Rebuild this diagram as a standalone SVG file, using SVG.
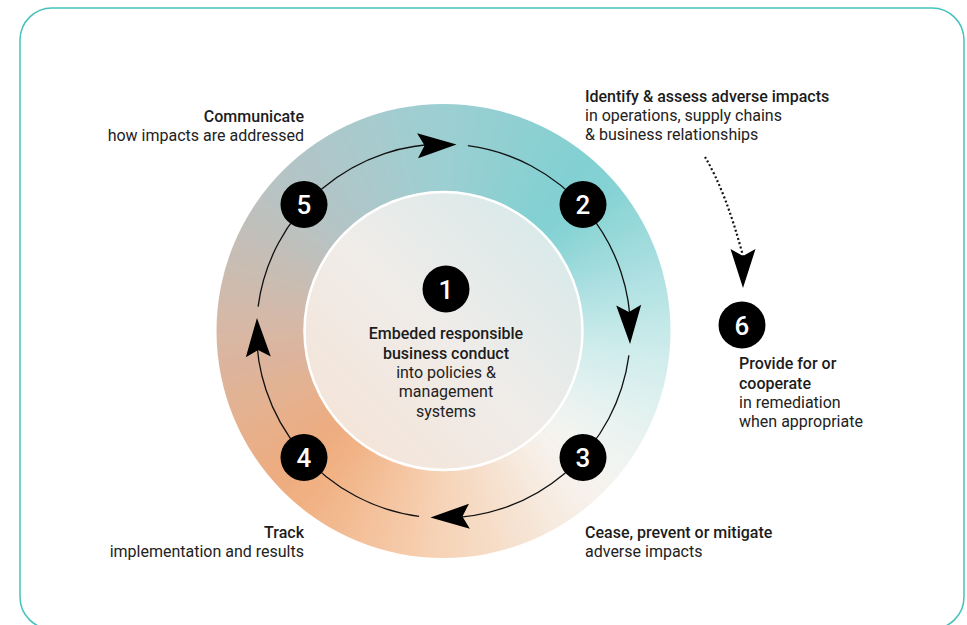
<svg xmlns="http://www.w3.org/2000/svg" xmlns:xlink="http://www.w3.org/1999/xlink" width="967" height="625" viewBox="0 0 967 625">
<style>
.b{font-family:Roboto,"Liberation Sans",sans-serif;font-weight:500;font-size:16px;fill:#1c1c1c}
.r{font-family:Roboto,"Liberation Sans",sans-serif;font-weight:400;font-size:16px;fill:#222}
.n{font-family:Roboto,"Liberation Sans",sans-serif;font-weight:500;font-size:26px;fill:#fff;text-anchor:middle}
.dot{fill:#000}
.cyc{fill:none;stroke:#111;stroke-width:1.3}
.head{fill:#000}
</style>
<defs>
<path id="w" d="M443.5,331 L702.3,306.1 A260,260 0 0,1 702.3,355.9 Z"/>
<path id="ah" d="M0,0 L-39,-12.5 L-32,0 L-39,12.5 Z"/>
<filter id="soft" x="-20%" y="-20%" width="140%" height="140%"><feGaussianBlur stdDeviation="12"/></filter>
<clipPath id="ringClip"><circle cx="443.5" cy="331" r="227"/></clipPath>
<linearGradient id="inner" x1="1" y1="0" x2="0" y2="1">
<stop offset="0" stop-color="#d2e9ea"/>
<stop offset="0.5" stop-color="#efece9"/>
<stop offset="1" stop-color="#f6e2d3"/>
</linearGradient>
</defs>
<rect x="20" y="8" width="944" height="621" rx="32" fill="#fff" stroke="#45c2be" stroke-width="1.5"/>
<g id="ring" clip-path="url(#ringClip)">
<g filter="url(#soft)">
<use xlink:href="#w" href="#w" fill="#c6e9e9" transform="rotate(0 443.5 331)"/>
<use xlink:href="#w" href="#w" fill="#d3eded" transform="rotate(10 443.5 331)"/>
<use xlink:href="#w" href="#w" fill="#dff1ef" transform="rotate(20 443.5 331)"/>
<use xlink:href="#w" href="#w" fill="#eaf3f1" transform="rotate(30 443.5 331)"/>
<use xlink:href="#w" href="#w" fill="#f3f4f1" transform="rotate(40 443.5 331)"/>
<use xlink:href="#w" href="#w" fill="#f7f1eb" transform="rotate(50 443.5 331)"/>
<use xlink:href="#w" href="#w" fill="#f7eadf" transform="rotate(60 443.5 331)"/>
<use xlink:href="#w" href="#w" fill="#f6e2d1" transform="rotate(70 443.5 331)"/>
<use xlink:href="#w" href="#w" fill="#f6dbc4" transform="rotate(80 443.5 331)"/>
<use xlink:href="#w" href="#w" fill="#f7d4b8" transform="rotate(90 443.5 331)"/>
<use xlink:href="#w" href="#w" fill="#f5cbaa" transform="rotate(100 443.5 331)"/>
<use xlink:href="#w" href="#w" fill="#f4c29d" transform="rotate(110 443.5 331)"/>
<use xlink:href="#w" href="#w" fill="#f2b98f" transform="rotate(120 443.5 331)"/>
<use xlink:href="#w" href="#w" fill="#f1b082" transform="rotate(130 443.5 331)"/>
<use xlink:href="#w" href="#w" fill="#edac80" transform="rotate(140 443.5 331)"/>
<use xlink:href="#w" href="#w" fill="#e8af89" transform="rotate(150 443.5 331)"/>
<use xlink:href="#w" href="#w" fill="#e3b292" transform="rotate(160 443.5 331)"/>
<use xlink:href="#w" href="#w" fill="#ddb49b" transform="rotate(170 443.5 331)"/>
<use xlink:href="#w" href="#w" fill="#d8b7a4" transform="rotate(180 443.5 331)"/>
<use xlink:href="#w" href="#w" fill="#d0baac" transform="rotate(190 443.5 331)"/>
<use xlink:href="#w" href="#w" fill="#c8bdb4" transform="rotate(200 443.5 331)"/>
<use xlink:href="#w" href="#w" fill="#c0c0bb" transform="rotate(210 443.5 331)"/>
<use xlink:href="#w" href="#w" fill="#b8c3c3" transform="rotate(220 443.5 331)"/>
<use xlink:href="#w" href="#w" fill="#b1c5c8" transform="rotate(230 443.5 331)"/>
<use xlink:href="#w" href="#w" fill="#acc8cb" transform="rotate(240 443.5 331)"/>
<use xlink:href="#w" href="#w" fill="#a7cacd" transform="rotate(250 443.5 331)"/>
<use xlink:href="#w" href="#w" fill="#a1cdd0" transform="rotate(260 443.5 331)"/>
<use xlink:href="#w" href="#w" fill="#9ccfd2" transform="rotate(270 443.5 331)"/>
<use xlink:href="#w" href="#w" fill="#96cfd2" transform="rotate(280 443.5 331)"/>
<use xlink:href="#w" href="#w" fill="#8fcfd2" transform="rotate(290 443.5 331)"/>
<use xlink:href="#w" href="#w" fill="#89d0d2" transform="rotate(300 443.5 331)"/>
<use xlink:href="#w" href="#w" fill="#82d0d2" transform="rotate(310 443.5 331)"/>
<use xlink:href="#w" href="#w" fill="#85d2d4" transform="rotate(320 443.5 331)"/>
<use xlink:href="#w" href="#w" fill="#94d8d9" transform="rotate(330 443.5 331)"/>
<use xlink:href="#w" href="#w" fill="#a5dddf" transform="rotate(340 443.5 331)"/>
<use xlink:href="#w" href="#w" fill="#b6e3e4" transform="rotate(350 443.5 331)"/>
</g>
</g>
<circle id="inner-disc" cx="443.5" cy="331" r="139" fill="url(#inner)" stroke="#fff" stroke-width="2.5"/>
<g id="connectors">
<path class="cyc" d="M258.10,306.59 A187,187 0 0,1 450.03,144.11"/>
<path class="cyc" d="M467.91,145.60 A187,187 0 0,1 630.39,337.53"/>
<path class="cyc" d="M628.90,355.41 A187,187 0 0,1 436.97,517.89"/>
<path class="cyc" d="M419.09,516.40 A187,187 0 0,1 256.61,324.47"/>
<use xlink:href="#ah" href="#ah" class="head" transform="translate(443.5 331) rotate(-86) translate(187 0) rotate(84)"/>
<use xlink:href="#ah" href="#ah" class="head" transform="translate(443.5 331) rotate(4) translate(187 0) rotate(84)"/>
<use xlink:href="#ah" href="#ah" class="head" transform="translate(443.5 331) rotate(94) translate(187 0) rotate(84)"/>
<use xlink:href="#ah" href="#ah" class="head" transform="translate(443.5 331) rotate(184) translate(187 0) rotate(84)"/>
<path d="M705,157 Q726,192 743,256" fill="none" stroke="#111" stroke-width="2.2" stroke-dasharray="2 2.4"/>
<use xlink:href="#ah" href="#ah" class="head" transform="translate(743 288) rotate(90)"/>
</g>
<g id="node-1">
<circle class="dot" cx="446" cy="289" r="23.5"/>
<text class="n" x="446" y="298.5">1</text>
<text class="b" x="446" y="339" text-anchor="middle">Embeded responsible</text>
<text class="b" x="446" y="358.5" text-anchor="middle">business conduct</text>
<text class="r" x="446" y="378" text-anchor="middle">into policies &amp;</text>
<text class="r" x="446" y="397" text-anchor="middle">management</text>
<text class="r" x="446" y="416.5" text-anchor="middle">systems</text>
</g>
<g id="node-2">
<circle class="dot" cx="583" cy="204.5" r="23.5"/>
<text class="n" x="583" y="214">2</text>
<text class="b" x="585" y="101.5">Identify &amp; assess adverse impacts</text>
<text class="r" x="585" y="120.5">in operations, supply chains</text>
<text class="r" x="585" y="139.5">&amp; business relationships</text>
</g>
<g id="node-3">
<circle class="dot" cx="583" cy="457.5" r="23.5"/>
<text class="n" x="583" y="467">3</text>
<text class="b" x="585" y="537.5">Cease, prevent or mitigate</text>
<text class="r" x="585" y="556.5">adverse impacts</text>
</g>
<g id="node-4">
<circle class="dot" cx="304" cy="457.5" r="23.5"/>
<text class="n" x="304" y="467">4</text>
<text class="b" x="304" y="538" text-anchor="end">Track</text>
<text class="r" x="304" y="557" text-anchor="end">implementation and results</text>
</g>
<g id="node-5">
<circle class="dot" cx="304" cy="204.5" r="23.5"/>
<text class="n" x="304" y="214">5</text>
<text class="b" x="304" y="121.5" text-anchor="end">Communicate</text>
<text class="r" x="304" y="140.5" text-anchor="end">how impacts are addressed</text>
</g>
<g id="node-6">
<circle class="dot" cx="742" cy="325" r="23.5"/>
<text class="n" x="742" y="334.5">6</text>
<text class="b" x="739" y="369">Provide for or</text>
<text class="b" x="739" y="388.5">cooperate</text>
<text class="r" x="739" y="408">in remediation</text>
<text class="r" x="739" y="427">when appropriate</text>
</g>
</svg>
